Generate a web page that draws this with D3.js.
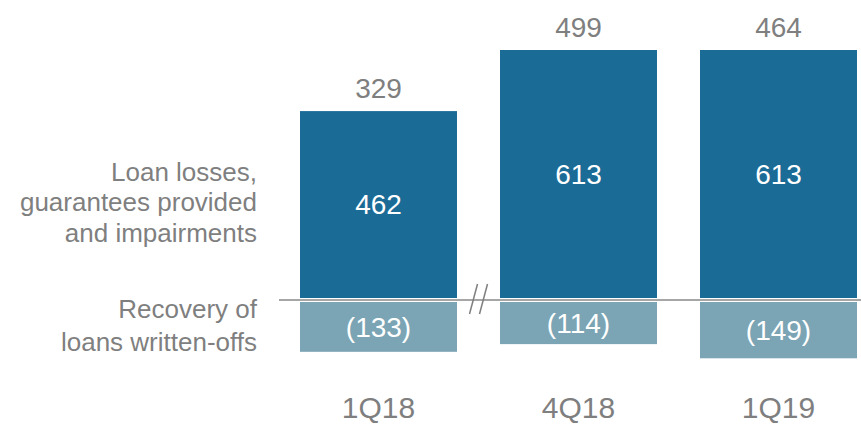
<!DOCTYPE html>
<html>
<head>
<meta charset="utf-8">
<script src="https://cdn.jsdelivr.net/npm/d3@7"></script>
<style>
  body { margin: 0; background: #fff; }
  text { font-family: "Liberation Sans", Arial, sans-serif; }
</style>
</head>
<body>
<script>
// data
const quarters = ["1Q18", "4Q18", "1Q19"];
const losses = [462, 613, 613];
const recoveries = [-133, -114, -149];
const totals = [329, 499, 464];
const rowLabels = [
    ["Loan losses,", "guarantees provided", "and impairments"],
    ["Recovery of", "loans written-offs"]
];

const width = 861, height = 424;
const dark = "#1b6b97", light = "#7ba4b4", grey = "#7f7f7f";

const svg = d3.select("body").append("svg")
    .attr("width", width)
    .attr("height", height);

const x = d3.scaleBand()
    .domain(quarters)
    .range([300, 857])
    .paddingInner(0.215)
    .paddingOuter(0);

const y = d3.scaleLinear()
    .domain([0, 613])
    .range([298, 50]);

// positive bars
svg.selectAll("rect.loss")
    .data(losses)
    .enter()
    .append("rect")
    .attr("class", "loss")
    .attr("x", (d, i) => x(quarters[i]))
    .attr("y", d => y(d))
    .attr("width", x.bandwidth())
    .attr("height", d => y(0) - y(d))
    .attr("fill", dark);

// negative bars (start just below the axis line)
svg.selectAll("rect.rec")
    .data(recoveries)
    .enter()
    .append("rect")
    .attr("class", "rec")
    .attr("x", (d, i) => x(quarters[i]))
    .attr("y", y(0) + 4)
    .attr("width", x.bandwidth())
    .attr("height", d => y(d) - y(0) - 4)
    .attr("fill", light);

// zero line
svg.append("line")
    .attr("x1", 279).attr("x2", width)
    .attr("y1", y(0) + 2).attr("y2", y(0) + 2)
    .attr("stroke", "#a6a6a6")
    .attr("stroke-width", 2);

// axis break marks between 1Q18 and 4Q18
const bx = (x("1Q18") + x.bandwidth() + x("4Q18")) / 2;
[-5, 5].forEach(off => {
    svg.append("line")
        .attr("x1", bx + off - 4).attr("y1", y(0) + 16)
        .attr("x2", bx + off + 4).attr("y2", y(0) - 14)
        .attr("stroke", "#7f7f7f")
        .attr("stroke-width", 1.5);
});

// value labels inside bars
svg.selectAll("text.lossv")
    .data(losses)
    .enter()
    .append("text")
    .attr("x", (d, i) => x(quarters[i]) + x.bandwidth() / 2)
    .attr("y", d => (y(d) + y(0)) / 2)
    .attr("dy", "0.35em")
    .attr("text-anchor", "middle")
    .attr("font-size", 28)
    .attr("fill", "#fff")
    .text(d => d);

svg.selectAll("text.recv")
    .data(recoveries)
    .enter()
    .append("text")
    .attr("x", (d, i) => x(quarters[i]) + x.bandwidth() / 2)
    .attr("y", d => (y(d) + y(0) + 4) / 2)
    .attr("dy", "0.35em")
    .attr("text-anchor", "middle")
    .attr("font-size", 28)
    .attr("fill", "#fff")
    .text(d => "(" + Math.abs(d) + ")");

// totals above bars
svg.selectAll("text.tot")
    .data(totals)
    .enter()
    .append("text")
    .attr("x", (d, i) => x(quarters[i]) + x.bandwidth() / 2)
    .attr("y", (d, i) => y(losses[i]) - 13)
    .attr("text-anchor", "middle")
    .attr("font-size", 28)
    .attr("fill", grey)
    .text(d => d);

// category axis
const xAxis = svg.append("g")
    .attr("transform", "translate(0,418)")
    .call(d3.axisBottom(x).tickSize(0).tickPadding(0));
xAxis.select(".domain").remove();
xAxis.selectAll("text")
    .attr("font-size", 30)
    .attr("font-family", "Liberation Sans, Arial, sans-serif")
    .attr("fill", grey)
    .attr("dy", 0)
    .attr("y", 0);

// row labels on the left
const rowY = [202, 325];
const rowGap = [30.5, 33];
rowLabels.forEach((lines, r) => {
    const t = svg.append("text")
        .attr("text-anchor", "end")
        .attr("font-size", 26)
        .attr("fill", grey);
    const first = rowY[r] - (lines.length - 1) * rowGap[r] / 2;
    lines.forEach((ln, k) => {
        t.append("tspan")
            .attr("x", 257)
            .attr("y", first + k * rowGap[r])
            .attr("dy", "0.35em")
            .text(ln);
    });
});
</script>
</body>
</html>
